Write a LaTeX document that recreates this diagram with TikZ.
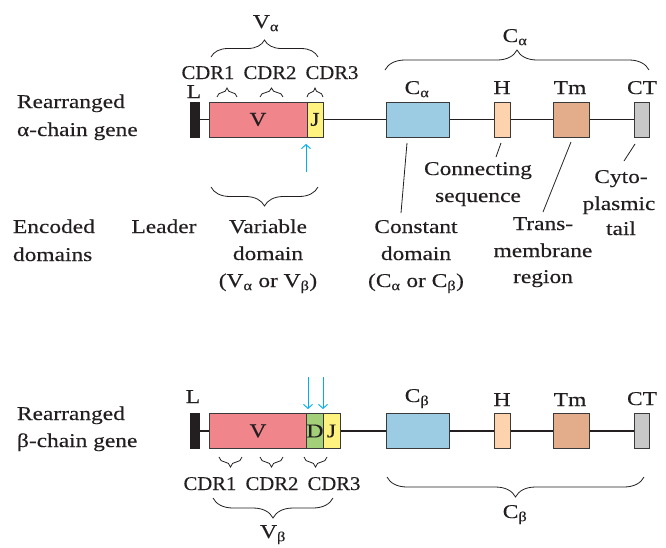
\documentclass[tikz,border=0pt]{standalone}
\usepackage{fontspec}
\setmainfont{Liberation Serif}[FakeStretch=1.2,FakeBold=0.3]
\newfontfamily\cdrfont{Liberation Serif}[FakeStretch=1.06,FakeBold=0.3]
\usetikzlibrary{decorations.pathreplacing,arrows.meta,backgrounds}
\definecolor{ink}{HTML}{231F20}
\definecolor{boxline}{HTML}{3A3A3A}
\definecolor{vpink}{HTML}{F0868C}
\definecolor{jyellow}{HTML}{FFF27F}
\definecolor{dgreen}{HTML}{A3CF78}
\definecolor{cblue}{HTML}{9CCCE4}
\definecolor{hpeach}{HTML}{FDD3AE}
\definecolor{tmbrown}{HTML}{E3AC8A}
\definecolor{ctgray}{HTML}{C8C8C8}
\definecolor{arrowcyan}{HTML}{00AEEF}
\begin{document}
\begin{tikzpicture}[x=1pt,y=-1pt,
  every node/.style={inner sep=0pt, outer sep=0pt, font=\fontsize{19.5}{23}\selectfont, text=ink},
  lbl/.style={anchor=base},
  lbll/.style={anchor=base west},
  cdr/.style={anchor=base, font=\cdrfont\fontsize{19.5}{23}\selectfont},
  genebox/.style={draw=boxline, line width=0.8pt, minimum height=35pt},
  leaderbar/.style={fill=ink, draw=ink, line width=0.5pt, minimum width=9pt, minimum height=35pt},
  backbone/.style={draw=ink, line width=1.1pt},
  pointer/.style={draw=ink, line width=0.8pt},
  brc/.style={draw=ink, line width=0.8pt, decorate, decoration={brace, amplitude=#1}},
  brcdown/.style={draw=ink, line width=0.8pt, decorate, decoration={brace, mirror, amplitude=#1}},
  junction/.style={draw=arrowcyan, line width=0.9pt, -{Straight Barb[length=4pt,width=9pt]}}
]
\useasboundingbox (0,0) rectangle (666,547);

% ---------------- alpha chain ----------------
\node[lbll] (ra1) at (17,108) {Rearranged};
\node[lbll] (ra2) at (17,136) {α-chain gene};

\node[leaderbar] (La) at (194.5,119.5) {};
\node[genebox, fill=vpink, minimum width=98pt] (Va) at (258,119.5) {V};
\node[genebox, fill=jyellow, minimum width=16pt] (Ja) at (315,119.5) {J};
\node[genebox, fill=cblue, minimum width=63pt] (Ca) at (417.5,119.5) {};
\node[genebox, fill=hpeach, minimum width=16pt] (Ha) at (502,119.5) {};
\node[genebox, fill=tmbrown, minimum width=36pt] (Tma) at (571,119.5) {};
\node[genebox, fill=ctgray, minimum width=15pt] (CTa) at (641.5,119.5) {};
\begin{scope}[on background layer]
  \draw[backbone] (La) -- (CTa);
\end{scope}

\node[lbl] (tLa) at (194,98) {L};
\node[lbl] (tCa) at (417,94) {C\textsubscript{α}};
\node[lbl] (tHa) at (502,94) {H};
\node[lbl] (tTma) at (570,94) {Tm};
\node[lbl] (tCTa) at (642,94) {CT};

\node[cdr] (c1a) at (208,79) {CDR1};
\node[cdr] (c2a) at (270,79) {CDR2};
\node[cdr] (c3a) at (332,79) {CDR3};
\draw[brc=9pt] (217,97) -- (237,97);
\draw[brc=9pt] (260,97) -- (283,97);
\draw[brc=9pt] (307,97) -- (323,97);

\draw[brc=17pt] (211,57) -- (318,57);
\node[lbl] (Valpha) at (266,28) {V\textsubscript{α}};
\draw[brc=20pt] (385,70) -- (649,70);
\node[lbl] (Calpha) at (515,42) {C\textsubscript{α}};

\coordinate (ja0) at (306,172);
\coordinate (ja1) at (306,144);
\draw[junction] (ja0) -- (ja1);

\draw[brcdown=19pt] (211,187) -- (318,187);

% encoded domains
\node[lbll] (e1) at (13,233) {Encoded};
\node[lbll] (e2) at (13,261) {domains};
\node[lbl] (ld) at (164,233) {Leader};
\node[lbl] (vd1) at (268,233) {Variable};
\node[lbl] (vd2) at (268,260) {domain};
\node[lbl] (vd3) at (268,287) {(V\textsubscript{α} or V\textsubscript{β})};
\node[lbl] (cd1) at (416,233) {Constant};
\node[lbl] (cd2) at (416,260) {domain};
\node[lbl] (cd3) at (416,287) {(C\textsubscript{α} or C\textsubscript{β})};
\node[lbl] (cs1) at (478,175) {Connecting};
\node[lbl] (cs2) at (478,202) {sequence};
\node[lbl] (tm1) at (543,230) {Trans-};
\node[lbl] (tm2) at (543,257) {membrane};
\node[lbl] (tm3) at (543,283) {region};
\node[lbl] (ct1) at (621,183) {Cyto-};
\node[lbl] (ct2) at (619,210) {plasmic};
\node[lbl] (ct3) at (621,235) {tail};

\coordinate (pc0) at (407,143); \coordinate (pc1) at (401,213);
\coordinate (ph0) at (501,143); \coordinate (ph1) at (496,157);
\coordinate (pt0) at (571,142); \coordinate (pt1) at (543,212);
\coordinate (pk0) at (635,144); \coordinate (pk1) at (624,161);
\draw[pointer] (pc0) -- (pc1);
\draw[pointer] (ph0) -- (ph1);
\draw[pointer] (pt0) -- (pt1);
\draw[pointer] (pk0) -- (pk1);

% ---------------- beta chain ----------------
\node[lbll] (rb1) at (17,420) {Rearranged};
\node[lbll] (rb2) at (17,447) {β-chain gene};

\node[leaderbar] (Lb) at (194.5,431) {};
\node[genebox, fill=vpink, minimum width=98pt] (Vb) at (258,431) {V};
\node[genebox, fill=dgreen, minimum width=16pt] (Db) at (315,431) {D};
\node[genebox, fill=jyellow, minimum width=17pt] (Jb) at (331.5,431) {J};
\node[genebox, fill=cblue, minimum width=63pt] (Cb) at (417.5,431) {};
\node[genebox, fill=hpeach, minimum width=16pt] (Hb) at (502,431) {};
\node[genebox, fill=tmbrown, minimum width=36pt] (Tmb) at (571,431) {};
\node[genebox, fill=ctgray, minimum width=15pt] (CTb) at (641.5,431) {};
\begin{scope}[on background layer]
  \draw[backbone] (Lb) -- (CTb);
\end{scope}

\node[lbl] (tLb) at (193,403) {L};
\node[lbl] (tCb) at (417,402) {C\textsubscript{β}};
\node[lbl] (tHb) at (502,406) {H};
\node[lbl] (tTmb) at (570,406) {Tm};
\node[lbl] (tCTb) at (642,405) {CT};

\coordinate (jb0) at (308,377); \coordinate (jb1) at (308,409);
\coordinate (jb2) at (323,377); \coordinate (jb3) at (323,409);
\draw[junction] (jb0) -- (jb1);
\draw[junction] (jb2) -- (jb3);

\draw[brcdown=10pt] (219,457) -- (242,457);
\draw[brcdown=10pt] (260,457) -- (283,457);
\draw[brcdown=10pt] (304,457) -- (327,457);
\node[cdr] (c1b) at (210,490) {CDR1};
\node[cdr] (c2b) at (272,490) {CDR2};
\node[cdr] (c3b) at (334,490) {CDR3};

\draw[brcdown=20pt] (213,498) -- (333,498);
\node[lbl] (Vbeta) at (273,538) {V\textsubscript{β}};
\draw[brcdown=20pt] (387,477) -- (644,477);
\node[lbl] (Cbeta) at (515,518) {C\textsubscript{β}};
\end{tikzpicture}
\end{document}
